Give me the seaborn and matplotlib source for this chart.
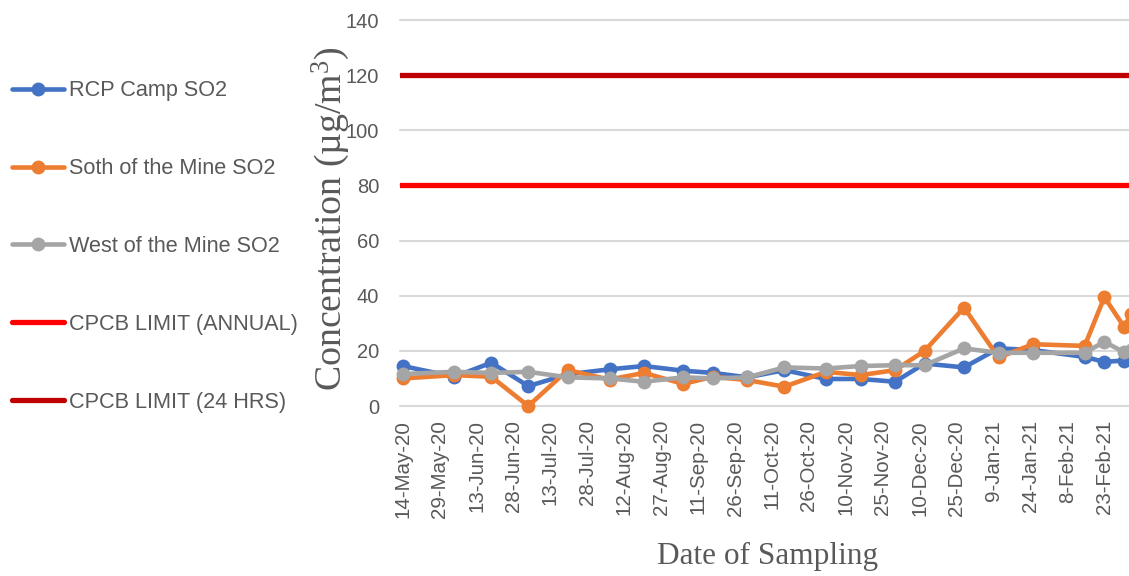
import matplotlib
matplotlib.use("Agg")
import matplotlib.pyplot as plt
import seaborn as sns
import pandas as pd
from matplotlib.lines import Line2D

# ---------------- data ----------------
dates = ["2020-05-14", "2020-06-04", "2020-06-19", "2020-07-04", "2020-07-20",
         "2020-08-06", "2020-08-20", "2020-09-05", "2020-09-17", "2020-10-01",
         "2020-10-16", "2020-11-02", "2020-11-16", "2020-11-30", "2020-12-12",
         "2020-12-28", "2021-01-11", "2021-01-25", "2021-02-15", "2021-02-23",
         "2021-03-03", "2021-03-06"]
rcp_camp = [14.5, 10.6, 15.7, 7.2, 11.5, 13.3, 14.5, 12.8, 12.0, 10.4,
            13.0, 9.8, 9.8, 8.8, 15.4, 14.0, 20.9, 20.3, 17.8, 16.0, 16.5, 17.4]
south_mine = [10.0, 11.2, 10.6, 0.0, 13.0, 9.6, 12.0, 8.0, 10.6, 9.4,
              7.0, 12.4, 11.2, 13.0, 20.0, 35.7, 17.6, 22.4, 21.8, 39.5, 28.7, 33.5]
west_mine = [11.6, 12.4, 12.0, 12.4, 10.4, 10.0, 8.8, 10.4, 10.0, 10.4,
             14.0, 13.6, 14.5, 14.8, 14.8, 20.9, 19.3, 19.3, 19.3, 23.3, 19.5, 20.2]
series_names = ["RCP Camp SO2", "Soth of the Mine SO2", "West of the Mine SO2"]
limit_names = ["CPCB LIMIT (ANNUAL)", "CPCB LIMIT (24 HRS)"]
limit_values = [80, 120]
tick_dates = ["2020-05-14", "2020-05-29", "2020-06-13", "2020-06-28", "2020-07-13",
              "2020-07-28", "2020-08-12", "2020-08-27", "2020-09-11", "2020-09-26",
              "2020-10-11", "2020-10-26", "2020-11-10", "2020-11-25", "2020-12-10",
              "2020-12-25", "2021-01-09", "2021-01-24", "2021-02-08", "2021-02-23"]
tick_labels = ["14-May-20", "29-May-20", "13-Jun-20", "28-Jun-20", "13-Jul-20",
               "28-Jul-20", "12-Aug-20", "27-Aug-20", "11-Sep-20", "26-Sep-20",
               "11-Oct-20", "26-Oct-20", "10-Nov-20", "25-Nov-20", "10-Dec-20",
               "25-Dec-20", "9-Jan-21", "24-Jan-21", "8-Feb-21", "23-Feb-21"]
y_ticks = [0, 20, 40, 60, 80, 100, 120, 140]

# ---------------- styling ----------------
colors = ["#4472C4", "#ED7D31", "#A5A5A5"]
limit_colors = ["#FF0000", "#C00000"]
text_color = "#595959"

sns.set_theme(style="white")
plt.rcParams["font.family"] = ["Liberation Sans", "DejaVu Sans"]
plt.rcParams["mathtext.fontset"] = "custom"
plt.rcParams["mathtext.rm"] = "Liberation Serif"
plt.rcParams["mathtext.it"] = "Liberation Serif:italic"

df = pd.DataFrame({
    "date": pd.to_datetime(dates * 3),
    "value": rcp_camp + south_mine + west_mine,
    "series": [series_names[0]] * len(dates) + [series_names[1]] * len(dates)
              + [series_names[2]] * len(dates),
})

W, H = 1129, 576
fig = plt.figure(figsize=(W / 100, H / 100), dpi=100)
ax = fig.add_axes([400 / W, 1 - 406 / H, 729 / W, 386 / H])

sns.lineplot(data=df, x="date", y="value", hue="series", hue_order=series_names,
             palette=dict(zip(series_names, colors)), marker="o", markersize=10,
             markeredgewidth=0, linewidth=3.3, legend=False, sort=False, ax=ax)
for ln in ax.get_lines():
    ln.set_clip_on(False)

for v, c in zip(limit_values, limit_colors):
    ax.axhline(v, color=c, lw=3.8, zorder=3)

base = pd.Timestamp(dates[0])
ax.set_xlim(base - pd.Timedelta(days=1.1), base + pd.Timedelta(days=295))
ax.set_ylim(0, 140)
ax.set_yticks(y_ticks)
ax.set_xticks(pd.to_datetime(tick_dates))
ax.set_xticklabels(tick_labels, rotation=90, fontsize=14.8, color=text_color,
                   family=["Liberation Sans"])
ax.tick_params(axis="x", length=0, pad=10)
ax.tick_params(axis="y", length=0, pad=15, labelsize=14.5, labelcolor=text_color)
ax.set_xlabel("")
ax.set_ylabel("")
for s in ax.spines.values():
    s.set_visible(False)
ax.grid(axis="y", color="#D9D9D9", lw=1.5)
ax.grid(axis="x", visible=False)
ax.set_axisbelow(True)
for gl in ax.yaxis.get_gridlines():
    gl.set_clip_on(False)

# axis titles
fig.text(331 / W, 1 - 219 / H, "Concentration (µg/m$^3$)", rotation=90,
         fontsize=27.3, family=["Liberation Serif"], color=text_color,
         ha="center", va="center")
fig.text(768 / W, 1 - 556 / H, "Date of Sampling", fontsize=22.5,
         family=["Liberation Serif"], color=text_color, ha="center", va="center")

# legend
handles = [Line2D([], [], color=c, lw=3.3, marker="o", markersize=10,
                  markeredgewidth=0) for c in colors]
handles += [Line2D([], [], color=c, lw=3.8) for c in limit_colors]
leg = fig.legend(handles, series_names + limit_names, loc="center left",
                 bbox_to_anchor=(12 / W, 1 - 246.5 / H), frameon=False,
                 fontsize=15.6, labelspacing=2.62, handlelength=2.4,
                 handletextpad=0.25, borderpad=0, borderaxespad=0, numpoints=1)
for t in leg.get_texts():
    t.set_color(text_color)

fig.savefig("out.png", dpi=100)
